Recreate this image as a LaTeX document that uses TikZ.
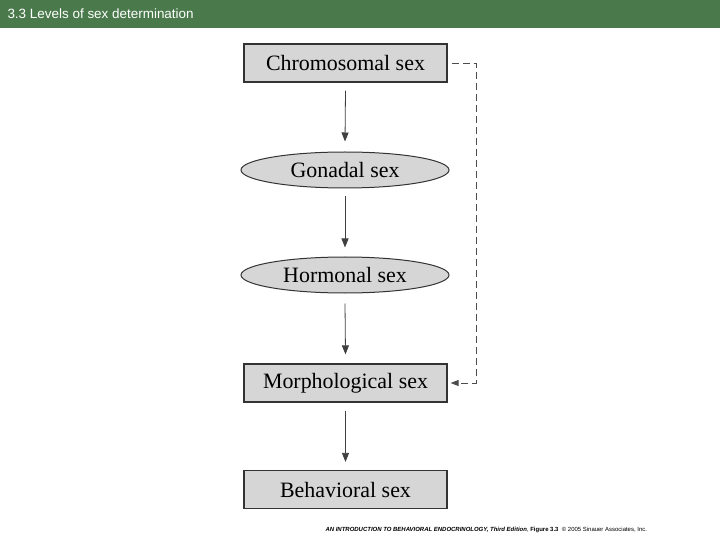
\documentclass[tikz,border=0pt]{standalone}
\usepackage{fontspec}
\setmainfont{Liberation Serif}
\newfontfamily\hdr{Liberation Sans}
\usetikzlibrary{shapes.geometric,arrows.meta}
\definecolor{hbar}{HTML}{4A7A4C}
\definecolor{boxg}{HTML}{D6D6D6}
\begin{document}
\begin{tikzpicture}[x=1bp,y=-1bp,
  bx/.style={draw=black!80,line width=1.2bp,fill=boxg,minimum width=203bp,minimum height=38bp,inner sep=0pt,font=\fontsize{22}{24}\selectfont},
  el/.style={ellipse,draw=black!80,line width=1bp,fill=boxg,minimum width=208bp,minimum height=36bp,inner sep=0pt,font=\fontsize{22}{24}\selectfont},
  ar/.style={-{Triangle[length=9bp,width=7bp]},line width=0.8bp,black!75}]
\useasboundingbox (0,0) rectangle (720,540);
\fill[hbar] (0,0) rectangle (720,28);
\node[anchor=west,text=white,font=\hdr\fontsize{13.5}{15}\selectfont] (h) at (4,14) {3.3 Levels of sex determination};
\node[bx] (c) at (345.5,63) {Chromosomal sex};
\node[el] (g) at (345,170) {Gonadal sex};
\node[el] (ho) at (345,275) {Hormonal sex};
\node[bx] (m) at (345.5,383) {Morphological sex};
\node[bx] (b) at (345.5,489.5) {Behavioral sex};
\draw[ar] ([yshift=-8bp]c.south) -- ([yshift=10bp]g.north);
\draw[ar] ([yshift=-8bp]g.south) -- ([yshift=9bp]ho.north);
\draw[ar] ([yshift=-10bp]ho.south) -- ([yshift=9bp]m.north);
\draw[ar] ([yshift=-8bp]m.south) -- ([yshift=8bp]b.north);
\coordinate (d1) at (476,63);
\coordinate (d2) at (476,383);
\draw[black!70,line width=0.8bp,dash pattern=on 7bp off 4bp,-{Triangle[length=8bp,width=6bp]}]
  ([xshift=4bp]c.east) -- (d1) -- (d2) -- ([xshift=3bp]m.east);
\node[anchor=west,font=\hdr\fontsize{6}{7}\selectfont] (f) at (322,530) {\textbf{\textit{AN INTRODUCTION TO BEHAVIORAL ENDOCRINOLOGY, Third Edition}}, \textbf{Figure 3.3} \ \textcopyright\ 2005 Sinauer Associates, Inc.};
\end{tikzpicture}
\end{document}
